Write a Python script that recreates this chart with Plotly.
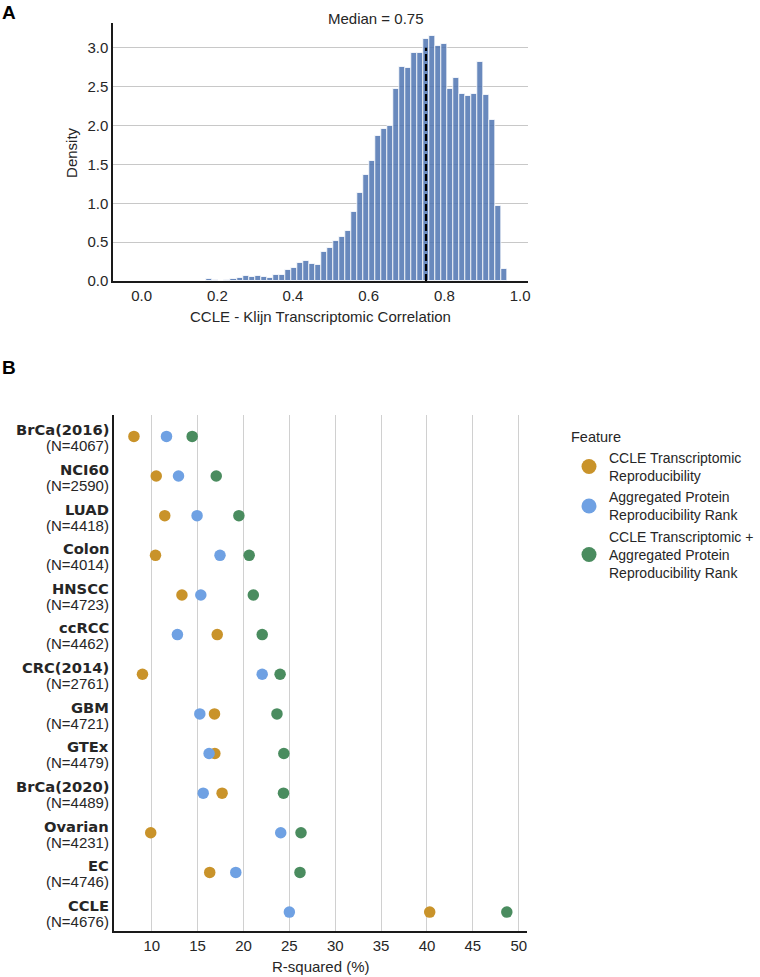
import numpy as np
import plotly.graph_objects as go

W, H = 760, 977

# ---------------- Panel A data: histogram of correlations ----------------
bin_start = 0.172
bin_width = 0.01588
density = [0.02, 0.013, 0.005, 0.01, 0.03, 0.035, 0.065, 0.05, 0.07, 0.055,
           0.045, 0.08, 0.08, 0.14, 0.17, 0.23, 0.26, 0.22, 0.2, 0.37,
           0.42, 0.52, 0.57, 0.64, 0.89, 1.13, 1.36, 1.55, 1.87, 1.96,
           1.99, 2.47, 2.75, 2.74, 2.94, 2.93, 3.11, 3.15, 3.03, 3.05,
           2.47, 2.61, 2.40, 2.38, 2.41, 2.82, 2.39, 2.07, 0.96, 0.16]
median_value = 0.7515
median_label = "Median = 0.75"
median_line_top = 3.0
hist_xticks = [0.0, 0.2, 0.4, 0.6, 0.8, 1.0]
hist_yticks = [0.0, 0.5, 1.0, 1.5, 2.0, 2.5, 3.0]

# ---------------- Panel B data: R-squared per dataset ----------------
datasets = ["BrCa(2016)", "NCI60", "LUAD", "Colon", "HNSCC", "ccRCC", "CRC(2014)",
            "GBM", "GTEx", "BrCa(2020)", "Ovarian", "EC", "CCLE"]
n_samples = [4067, 2590, 4418, 4014, 4723, 4462, 2761, 4721, 4479, 4489, 4231, 4746, 4676]
transcriptomic = [8.06, 10.49, 11.42, 10.41, 13.29, 17.14, 8.99, 16.84, 16.88, 17.67, 9.89, 16.32, 40.3]
protein = [11.61, 12.92, 14.94, 17.44, 15.35, 12.80, 22.04, 15.24, 16.25, 15.61, 24.06, 19.16, 25.0]
combined = [14.41, 17.03, 19.50, 20.62, 21.07, 22.04, 23.99, 23.65, 24.40, 24.36, 26.27, 26.16, 48.7]
series_names = ["CCLE Transcriptomic<br>Reproducibility",
                "Aggregated Protein<br>Reproducibility Rank",
                "CCLE Transcriptomic +<br>Aggregated Protein<br>Reproducibility Rank"]
series_colors = ["#C9932A", "#6FA1E3", "#4A8C5F"]
dot_xticks = [10, 15, 20, 25, 30, 35, 40, 45, 50]

FONT = "Liberation Sans, Arial, sans-serif"
TXT = "#262626"


def px_x(p):
    return p / W


def px_y(p):
    return 1 - p / H


bin_centers = bin_start + bin_width * (np.arange(len(density)) + 0.5)

fig = go.Figure()

fig.add_trace(go.Bar(
    x=bin_centers, y=density, width=bin_width,
    marker=dict(color="rgba(76,114,176,0.84)", line=dict(color="rgba(255,255,255,0.8)", width=1)),
    xaxis="x", yaxis="y", showlegend=False, hoverinfo="x+y",
))

for vals, name, col in zip([transcriptomic, protein, combined], series_names, series_colors):
    fig.add_trace(go.Scatter(
        x=vals, y=datasets, mode="markers", xaxis="x2", yaxis="y2",
        marker=dict(size=11.5, color=col, line=dict(width=0)),
        showlegend=False, name=name,
    ))
for name, col in zip(series_names, series_colors):
    fig.add_trace(go.Scatter(
        x=[None], y=[None], mode="markers", xaxis="x2", yaxis="y2",
        marker=dict(size=15, color=col, line=dict(width=0)),
        showlegend=True, name=name,
    ))

# median dashed line
fig.add_shape(type="line", xref="x", yref="y", x0=median_value, x1=median_value,
              y0=0, y1=median_line_top, line=dict(color="black", width=2.2, dash="7px,3px"),
              layer="above")

annotations = []
annotations.append(dict(text=median_label, x=median_value, xref="x", xanchor="right",
                        y=px_y(19), yref="paper", yanchor="middle", showarrow=False,
                        font=dict(size=15, color=TXT, family=FONT)))
# axis titles
annotations.append(dict(text="CCLE - Klijn Transcriptomic Correlation", x=px_x(320.8), y=px_y(316.7),
                        xref="paper", yref="paper", showarrow=False, xanchor="center", yanchor="middle",
                        font=dict(size=15, color=TXT, family=FONT)))
annotations.append(dict(text="Density", x=px_x(70.9), y=px_y(152), textangle=-90,
                        xref="paper", yref="paper", showarrow=False, xanchor="center", yanchor="middle",
                        font=dict(size=15, color=TXT, family=FONT)))
annotations.append(dict(text="R-squared (%)", x=px_x(320.6), y=px_y(966.7),
                        xref="paper", yref="paper", showarrow=False, xanchor="center", yanchor="middle",
                        font=dict(size=15, color=TXT, family=FONT)))
# panel letters
for letter, (lx, ly) in zip(["A", "B"], [(9, 12), (9, 367)]):
    annotations.append(dict(text="<b>%s</b>" % letter, x=px_x(lx), y=px_y(ly), xref="paper", yref="paper",
                            showarrow=False, xanchor="center", yanchor="middle",
                            font=dict(size=19, color="black", family=FONT)))
# row labels
for ds, n in zip(datasets, n_samples):
    annotations.append(dict(text="<b>%s</b>" % ds, x=px_x(111), xref="paper", xanchor="right",
                            y=ds, yref="y2", yanchor="middle", yshift=6.6, showarrow=False,
                            font=dict(size=14.7, color=TXT, family="DejaVu Sans")))
    annotations.append(dict(text="(N=%d)" % n, x=px_x(111), xref="paper", xanchor="right",
                            y=ds, yref="y2", yanchor="middle", yshift=-9.4, showarrow=False,
                            font=dict(size=15, color=TXT, family=FONT)))

fig.update_layout(
    width=W, height=H,
    margin=dict(l=0, r=0, t=0, b=0),
    paper_bgcolor="white", plot_bgcolor="white",
    font=dict(family=FONT, size=15, color=TXT),
    bargap=0,
    annotations=annotations,
    xaxis=dict(domain=[px_x(113.3), px_x(528)], anchor="y", range=[-0.075, 1.021],
               tickmode="array", tickvals=hist_xticks, tickformat=".1f",
               showgrid=False, zeroline=False, showline=True, linecolor="#1a1a1a", linewidth=2,
               ticks="", ticklabelstandoff=0, automargin=False),
    yaxis=dict(domain=[px_y(281), px_y(23)], anchor="x", range=[0, 3.32],
               tickmode="array", tickvals=hist_yticks, tickformat=".1f",
               showgrid=True, gridcolor="#c8c8c8", gridwidth=1.2, zeroline=False,
               showline=True, linecolor="#1a1a1a", linewidth=2, ticks="", automargin=False),
    xaxis2=dict(domain=[px_x(114.3), px_x(526.7)], anchor="y2", range=[5.92, 50.87],
                tickmode="array", tickvals=dot_xticks,
                showgrid=True, gridcolor="#d0d0d0", gridwidth=1.3, zeroline=False,
                showline=True, linecolor="#1a1a1a", linewidth=2, ticks="", ticklabelstandoff=0,
                automargin=False),
    yaxis2=dict(domain=[px_y(930.7), px_y(415)], anchor="x2", type="category",
                categoryorder="array", categoryarray=datasets, range=[12.47, -0.54],
                showticklabels=False, showgrid=False, zeroline=False,
                showline=True, linecolor="#1a1a1a", linewidth=2, ticks="", automargin=False),
    legend=dict(x=px_x(569), y=px_y(423), xanchor="left", yanchor="top",
                title=dict(text="Feature", font=dict(size=14.5, color=TXT, family=FONT)),
                font=dict(size=14, color=TXT, family=FONT), bgcolor="rgba(0,0,0,0)",
                itemsizing="trace", tracegroupgap=0),
)

# remove the default 8px page margin so the 760x977 figure fills the window exactly
fig.write_html("out.html",
               config={"displayModeBar": False},
               post_script="document.body.style.margin='0';document.body.style.overflow='hidden';")
